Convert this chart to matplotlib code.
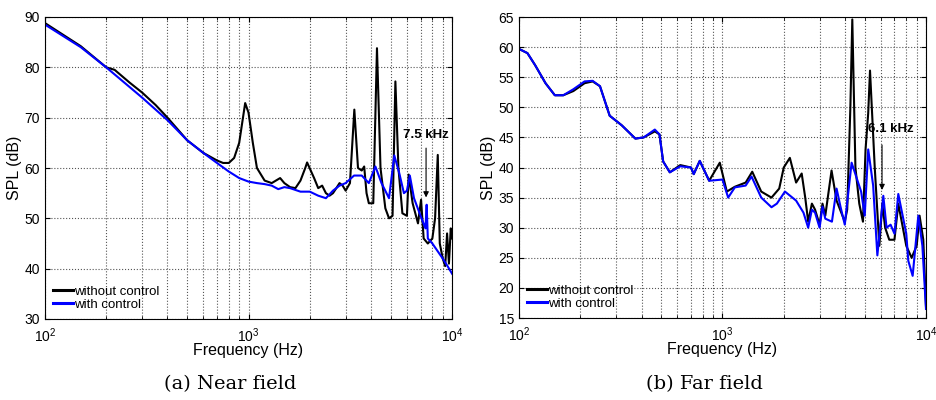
import numpy as np
import matplotlib
matplotlib.use('Agg')
import matplotlib.pyplot as plt

# near field, without control
near_f_off = [100, 150, 200, 220, 260, 300, 350, 400, 500, 600, 700, 750, 800, 850, 900, 963,
              1000, 1050, 1100, 1200, 1300, 1430, 1500, 1600, 1700, 1800, 1900, 1940, 2100, 2200,
              2300, 2400, 2500, 2600, 2700, 2800, 2900, 3000, 3150, 3310, 3450, 3600, 3700, 3800,
              3900, 4100, 4276, 4450, 4700, 4900, 5100, 5266, 5450, 5700, 6000, 6120, 6400, 6800,
              7040, 7250, 7600, 8000, 8250, 8505, 8700, 9000, 9250, 9450, 9650, 9850, 10000]
near_db_off = [88.8, 84.2, 80.0, 79.5, 77.0, 75.0, 72.5, 70.0, 65.5, 63.0, 61.5, 61.0, 61.0, 62.0, 65.0, 72.9,
               71.0, 65.0, 60.0, 57.5, 57.0, 58.0, 57.0, 56.2, 56.0, 57.5, 60.0, 61.1, 58.0, 56.0,
               56.5, 55.0, 54.5, 55.0, 56.0, 57.0, 56.5, 55.5, 57.0, 71.6, 60.0, 59.5, 60.3, 55.0,
               53.0, 53.0, 83.8, 60.0, 52.0, 50.0, 50.5, 77.2, 60.0, 51.0, 50.5, 58.7, 53.0, 49.0,
               53.7, 46.0, 45.0, 46.0, 50.0, 62.6, 45.0, 42.0, 40.5, 47.0, 41.0, 48.0, 46.0]

# near field, with control
near_f_on = [100, 150, 200, 300, 400, 500, 600, 700, 800, 900, 1000, 1100, 1200, 1300, 1400, 1500,
             1600, 1800, 2000, 2200, 2400, 2600, 2800, 3000, 3300, 3600, 3900, 4200, 4500, 4900,
             5200, 5500, 5800, 6000, 6200, 6500, 7000, 7400, 7500, 7600, 8000, 9000, 9500, 10000]
near_db_on = [88.5, 84.0, 80.0, 74.0, 69.5, 65.5, 63.0, 61.0, 59.3, 58.0, 57.3, 57.0, 56.8, 56.5, 55.8, 56.2,
              56.0, 55.3, 55.3, 54.5, 54.0, 55.5, 56.5, 57.0, 58.5, 58.5, 57.0, 60.3, 57.0, 54.0,
              62.5, 59.0, 55.0, 55.5, 58.5, 54.0, 50.5, 48.0, 52.7, 46.0, 45.0, 42.0, 40.5, 39.0]

# far field, with control
far_f_on = [100, 110, 120, 135, 150, 165, 185, 210, 230, 250, 279, 320, 373, 410, 465, 490, 511, 551,
            620, 700, 722, 773, 860, 1000, 1066, 1150, 1300, 1389, 1550, 1741, 1850, 2027, 2300,
            2500, 2637, 2750, 2850, 3000, 3100, 3200, 3450, 3636, 3800, 3990, 4310, 4800, 5000,
            5201, 5500, 5768, 6170, 6400, 6700, 7000, 7310, 8000, 8186, 8600, 9170, 9600, 10000]
far_db_on = [59.7, 59.0, 57.0, 54.0, 52.0, 52.0, 53.0, 54.3, 54.4, 53.5, 48.6, 47.0, 44.8, 45.0, 46.3, 45.5, 41.0, 39.2,
             40.2, 40.0, 38.9, 41.1, 37.8, 38.0, 35.0, 36.7, 37.0, 38.5, 35.0, 33.4, 34.0, 36.0, 34.5,
             32.5, 30.0, 33.0, 32.5, 30.0, 33.5, 31.5, 31.0, 36.5, 33.5, 30.5, 40.8, 36.0, 32.0,
             43.0, 37.0, 25.4, 35.3, 30.0, 30.5, 29.0, 35.6, 29.0, 24.5, 22.0, 32.0, 27.0, 16.5]

# far field, without control
far_f_off = [100, 110, 120, 135, 150, 165, 185, 210, 230, 250, 279, 320, 373, 410, 465, 490, 511, 551,
             620, 700, 722, 773, 860, 970, 1050, 1150, 1300, 1400, 1550, 1741, 1900, 2000, 2143,
             2300, 2450, 2550, 2637, 2750, 2850, 3000, 3100, 3200, 3435, 3636, 3990, 4100, 4250,
             4344, 4500, 4700, 4900, 5047, 5200, 5308, 5600, 5900, 6100, 6300, 6600, 7000, 7310,
             8000, 8500, 9000, 9300, 9700, 10000]
far_db_off = [59.7, 59.0, 57.0, 54.0, 52.0, 52.0, 52.7, 54.0, 54.3, 53.5, 48.6, 47.0, 44.8, 45.0, 46.0, 45.5, 41.0, 39.2,
              40.4, 40.0, 38.9, 41.1, 37.8, 40.8, 36.0, 36.8, 37.5, 39.3, 36.0, 35.0, 36.5, 40.0, 41.6,
              37.5, 39.0, 35.0, 31.0, 34.0, 33.0, 30.5, 34.0, 32.0, 39.5, 34.5, 31.0, 33.0, 50.0,
              64.6, 40.0, 34.0, 31.0, 43.0, 49.0, 56.1, 40.0, 27.0, 34.0, 30.0, 28.0, 28.0, 34.0,
              27.0, 25.0, 27.0, 32.0, 28.0, 17.0]

sans = ['Liberation Sans', 'DejaVu Sans']
plt.rcParams['font.family'] = sans
plt.rcParams['mathtext.fontset'] = 'custom'
plt.rcParams['mathtext.rm'] = 'Liberation Sans'
plt.rcParams['mathtext.it'] = 'Liberation Sans'

fig = plt.figure(figsize=(9.36, 4.0), dpi=100)
ax1 = fig.add_axes([0.048, 0.2025, 0.435, 0.755])
ax2 = fig.add_axes([0.5545, 0.205, 0.4348, 0.7525])

panels = [
    (ax1, near_f_off, near_db_off, near_f_on, near_db_on, (30, 90), np.arange(30, 91, 10)),
    (ax2, far_f_off, far_db_off, far_f_on, far_db_on, (15, 65), np.arange(15, 66, 5)),
]
for ax, fo, do, fn, dn, ylim, yt in panels:
    ax.semilogx(fo, do, color='black', lw=1.5, label='without control')
    ax.semilogx(fn, dn, color='#0000ff', lw=1.5, label='with control')
    ax.set_xlim(100, 10000)
    ax.set_ylim(*ylim)
    ax.set_yticks(yt)
    ax.set_xticks([100, 1000, 10000])
    ax.set_xticklabels([r'$10^2$', r'$10^3$', r'$10^4$'])
    ax.grid(True, which='both', axis='x', ls=':', color='#555555', lw=0.8)
    ax.grid(True, which='major', axis='y', ls=':', color='#555555', lw=0.8)
    ax.tick_params(which='both', direction='in', top=True, right=True, labelsize=10)
    ax.tick_params(axis='x', pad=5)
    ax.set_xlabel('Frequency (Hz)', fontsize=11.5, labelpad=-1)
    ax.set_ylabel('SPL (dB)', fontsize=11.5, labelpad=2)
    leg = ax.legend(loc='lower left', frameon=False, fontsize=9.5, handlelength=1.5,
                    handletextpad=0.1, borderaxespad=0.2, labelspacing=0.1)
    for line in leg.get_lines():
        line.set_linewidth(2.2)

ax1.annotate('', xy=(7450, 53.6), xytext=(7450, 64.5),
             arrowprops=dict(arrowstyle='-|>', color='black', lw=0.8, mutation_scale=8))
ax1.text(7450, 66.6, '7.5 kHz', ha='center', va='center', fontsize=9.5, fontweight='bold')
ax2.annotate('', xy=(6080, 35.8), xytext=(6080, 44.2),
             arrowprops=dict(arrowstyle='-|>', color='black', lw=0.8, mutation_scale=8))
ax2.text(6700, 46.4, '6.1 kHz', ha='center', va='center', fontsize=9.5, fontweight='bold')

fig.text(0.246, 0.04, '(a) Near field', ha='center', va='center', fontsize=14,
         family=['DejaVu Serif'])
fig.text(0.753, 0.04, '(b) Far field', ha='center', va='center', fontsize=14,
         family=['DejaVu Serif'])

fig.savefig('out.png', dpi=100)
